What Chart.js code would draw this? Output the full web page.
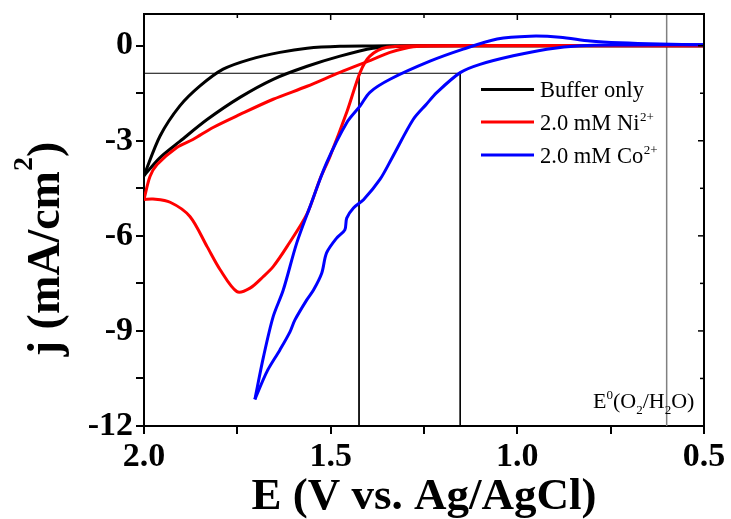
<!DOCTYPE html>
<html><head><meta charset="utf-8">
<script src="https://cdn.jsdelivr.net/npm/chart.js@4.4.0/dist/chart.umd.min.js"></script>
<style>html,body{margin:0;padding:0;background:#fff}</style>
</head><body>
<canvas id="c" width="731" height="519"></canvas>
<script>
const FONT = '"Liberation Serif","Times New Roman",serif';

// x ticks (V vs. Ag/AgCl) and y ticks (mA/cm2)
const xTickLabels = [2.0, 1.5, 1.0, 0.5];
const yTickLabels = [0, -3, -6, -9, -12];

// Buffer only (two branches of the CV loop)
const bufUpperE = [0.5, 1.0, 1.3, 1.387, 1.475, 1.563, 1.636, 1.716, 1.788, 1.850, 1.904, 1.957, 2.0];
const bufUpperJ = [0, 0, 0, -0.01, -0.02, -0.08, -0.21, -0.43, -0.74, -1.27, -1.90, -2.85, -4.1];
const bufLowerE = [2.0, 1.957, 1.904, 1.831, 1.743, 1.654, 1.563, 1.475, 1.387, 1.314, 1.2, 0.5];
const bufLowerJ = [-4.1, -3.53, -3.02, -2.33, -1.63, -1.06, -0.65, -0.33, -0.08, -0.02, 0, 0];

// 2.0 mM Ni2+
const niUpperE = [0.5, 1.1, 1.2, 1.279, 1.341, 1.387, 1.475, 1.563, 1.654, 1.743, 1.815, 1.869, 1.912, 1.965, 1.984, 2.0];
const niUpperJ = [0, 0, -0.01, -0.03, -0.21, -0.43, -0.84, -1.28, -1.69, -2.17, -2.58, -2.96, -3.21, -3.75, -4.13, -4.85];
const niLowerE = [2.0, 1.976, 1.930, 1.877, 1.831, 1.796, 1.751, 1.716, 1.681, 1.654, 1.617, 1.563, 1.529, 1.502, 1.456, 1.421, 1.395, 1.349, 1.25, 0.5];
const niLowerJ = [-4.85, -4.84, -4.94, -5.39, -6.34, -7.07, -7.76, -7.65, -7.29, -6.97, -6.34, -5.3, -4.22, -3.5, -2.07, -0.84, -0.33, -0.05, 0, 0];

// 2.0 mM Co2+
const coUpperE = [0.5, 0.618, 0.725, 0.805, 0.886, 0.966, 1.054, 1.145, 1.234, 1.341, 1.395, 1.421, 1.457, 1.511, 1.555, 1.591, 1.627, 1.654, 1.680, 1.703];
const coUpperJ = [0.03, 0.05, 0.09, 0.15, 0.27, 0.30, 0.21, -0.11, -0.49, -1.06, -1.47, -1.9, -2.43, -3.7, -5.07, -6.23, -7.71, -8.55, -9.82, -11.16];
const coLowerE = [1.703, 1.671, 1.636, 1.609, 1.596, 1.564, 1.546, 1.524, 1.511, 1.484, 1.462, 1.457, 1.439, 1.412, 1.368, 1.336, 1.279, 1.243, 1.216, 1.153, 1.100, 1.011, 0.921, 0.832, 0.706, 0.5];
const coLowerJ = [-11.16, -10.29, -9.60, -9.03, -8.66, -8.02, -7.71, -7.18, -6.54, -6.07, -5.81, -5.44, -5.12, -4.86, -4.22, -3.55, -2.33, -1.84, -1.48, -0.85, -0.59, -0.32, -0.11, 0.0, 0.02, 0.03];

// guide lines
const hRefE = [2.0, 1.153], hRefJ = [-0.87, -0.87];
const v1RefE = [1.424, 1.424], v1RefJ = [-0.87, -12];
const v2RefE = [1.153, 1.153], v2RefJ = [-0.87, -12];
const e0RefE = [0.6, 0.6], e0RefJ = [1, -12];

const seriesNames = ['Buffer only', '2.0 mM Ni', '2.0 mM Co'];
const seriesSup = ['', '2+', '2+'];
const seriesColors = ['#000000', '#ff0000', '#0000ff'];

const pts = (E, J) => E.map((e, i) => ({x: e, y: J[i]}));
const curve = (label, E, J, color) => ({label, data: pts(E, J), borderColor: color, backgroundColor: color,
  borderWidth: 3, pointRadius: 0, showLine: true, tension: 0.3, fill: false});
const ref = (E, J, color, w) => ({label: 'ref', data: pts(E, J), borderColor: color, borderWidth: w,
  pointRadius: 0, showLine: true, tension: 0, fill: false});

const datasets = [
  curve(seriesNames[2], coUpperE, coUpperJ, seriesColors[2]),
  curve(seriesNames[2], coLowerE, coLowerJ, seriesColors[2]),
  curve(seriesNames[1], niUpperE, niUpperJ, seriesColors[1]),
  curve(seriesNames[1], niLowerE, niLowerJ, seriesColors[1]),
  curve(seriesNames[0], bufUpperE, bufUpperJ, seriesColors[0]),
  curve(seriesNames[0], bufLowerE, bufLowerJ, seriesColors[0]),
  ref(hRefE, hRefJ, '#000', 1),
  ref(v1RefE, v1RefJ, '#000', 1),
  ref(v2RefE, v2RefJ, '#000', 1),
  ref(e0RefE, e0RefJ, '#808080', 1.5)
];

const isMult = (v, s) => Math.abs(v / s - Math.round(v / s)) < 1e-6;

const deco = {
  id: 'deco',
  afterDraw(chart) {
    const {ctx, chartArea: a, scales: {x, y}} = chart;
    ctx.save();
    // top/right frame
    ctx.strokeStyle = '#000'; ctx.lineWidth = 2;
    ctx.beginPath(); ctx.moveTo(a.left - 1, a.top); ctx.lineTo(a.right, a.top); ctx.lineTo(a.right, a.bottom + 1); ctx.stroke();
    // inward mirror ticks
    ctx.lineWidth = 1.5;
    x.ticks.forEach(t => {
      const px = x.getPixelForValue(t.value);
      const L = isMult(t.value, 0.5) ? 6 : 4;
      ctx.beginPath(); ctx.moveTo(px, a.top); ctx.lineTo(px, a.top + L); ctx.stroke();
    });
    y.ticks.forEach(t => {
      const py = y.getPixelForValue(t.value);
      const L = isMult(t.value, 3) ? 6 : 4;
      ctx.beginPath(); ctx.moveTo(a.right, py); ctx.lineTo(a.right - L, py); ctx.stroke();
    });
    // legend
    ctx.fillStyle = '#000'; ctx.textBaseline = 'alphabetic'; ctx.textAlign = 'left';
    const rows = [89.5, 122, 155];
    seriesNames.forEach((n, i) => {
      ctx.strokeStyle = seriesColors[i]; ctx.lineWidth = 3;
      ctx.beginPath(); ctx.moveTo(481, rows[i]); ctx.lineTo(534, rows[i]); ctx.stroke();
      ctx.font = '22.5px ' + FONT;
      ctx.fillText(n, 540, rows[i] + 7.5);
      if (seriesSup[i]) {
        const w = ctx.measureText(n).width;
        ctx.font = '13px ' + FONT;
        ctx.fillText(seriesSup[i], 540 + w + 0.5, rows[i] - 1.5);
      }
    });
    // E0 annotation
    let cx = 593; const bl = 408;
    const part = (txt, size, dy) => { ctx.font = size + 'px ' + FONT; ctx.fillText(txt, cx, bl + dy); cx += ctx.measureText(txt).width; };
    part('E', 22, 0); part('0', 13, -9); part('(O', 22, 0); part('2', 13, 6); part('/H', 22, 0); part('2', 13, 6); part('O)', 22, 0);
    // x title
    ctx.font = 'bold 45px ' + FONT; ctx.textAlign = 'center';
    ctx.fillText('E (V vs. Ag/AgCl)', 424, 509);
    // y title
    ctx.save();
    ctx.translate(59, 249); ctx.rotate(-Math.PI / 2);
    ctx.textAlign = 'left';
    ctx.font = 'bold 46px ' + FONT; const t1 = 'j (mA/cm'; const w1 = ctx.measureText(t1).width;
    const w3 = ctx.measureText(')').width;
    ctx.font = 'bold 28px ' + FONT; const w2 = ctx.measureText('2').width;
    let sx = -(w1 + w2 + w3) / 2;
    ctx.font = 'bold 46px ' + FONT; ctx.fillText(t1, sx, 0); sx += w1;
    ctx.font = 'bold 28px ' + FONT; ctx.fillText('2', sx, -27); sx += w2;
    ctx.font = 'bold 46px ' + FONT; ctx.fillText(')', sx, 0);
    ctx.restore();
    ctx.restore();
  }
};

new Chart(document.getElementById('c'), {
  type: 'scatter',
  data: {datasets},
  options: {
    responsive: false, animation: false, devicePixelRatio: 1,
    layout: {padding: {left: 0, right: 27, top: 14, bottom: 0}},
    plugins: {legend: {display: false}, tooltip: {enabled: false}},
    scales: {
      x: {
        type: 'linear', position: 'bottom', min: 0.5, max: 2.0, reverse: true,
        afterFit: s => { s.height = 93; s.paddingLeft = 0; s.paddingRight = 0; },
        ticks: {stepSize: 0.25, autoSkip: false, maxRotation: 0, padding: 3, color: '#000',
          font: {family: FONT, size: 34, weight: 'bold'},
          callback: v => xTickLabels.some(l => Math.abs(l - v) < 1e-6) ? v.toFixed(1) : ''},
        grid: {drawOnChartArea: false, drawTicks: true, tickLength: 8, color: '#000', lineWidth: 2},
        border: {display: true, color: '#000', width: 2}
      },
      y: {
        type: 'linear', position: 'left', min: -12, max: 1,
        afterFit: s => { s.width = 144; s.paddingTop = 0; s.paddingBottom = 0; },
        afterBuildTicks: s => { s.ticks = s.ticks.filter(t => t.value <= 0); },
        ticks: {stepSize: 1.5, autoSkip: false, padding: 3, color: '#000',
          font: {family: FONT, size: 34, weight: 'bold'},
          callback: v => yTickLabels.some(l => Math.abs(l - v) < 1e-6) ? String(v) : ''},
        grid: {drawOnChartArea: false, drawTicks: true, tickLength: 8, color: '#000', lineWidth: 2},
        border: {display: true, color: '#000', width: 2}
      }
    }
  },
  plugins: [deco]
});
</script>
</body></html>
